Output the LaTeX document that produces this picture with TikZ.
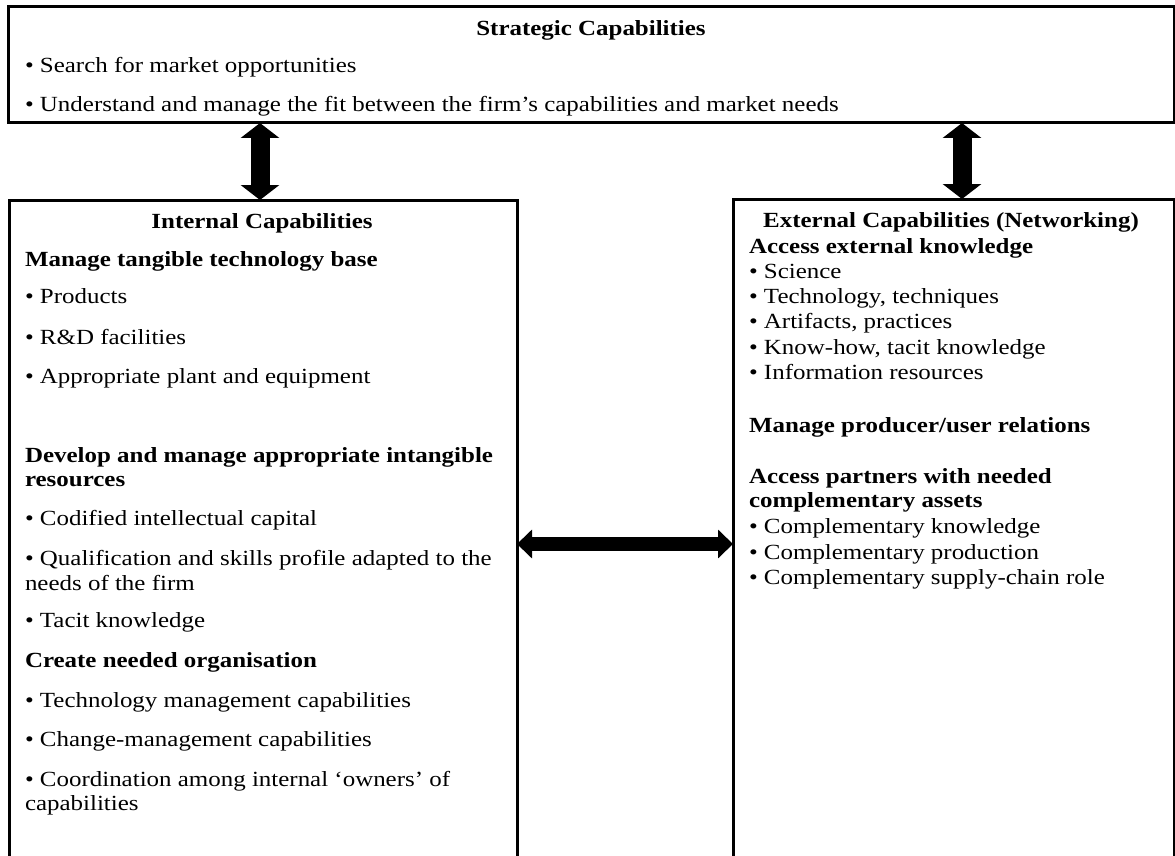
\documentclass[tikz,border=0pt]{standalone}
\usepackage{fontspec}
\setmainfont{Liberation Serif}[FakeStretch=1.155]
\usetikzlibrary{arrows.meta}

\tikzset{
  frame/.style={draw, rectangle, line width=3pt, inner sep=0pt, outer sep=0pt, anchor=north west},
  txt/.style={anchor=base west, inner sep=0pt, outer sep=0pt, font=\fontsize{21.6}{25}\selectfont},
  head/.style={txt, font=\fontsize{21.6}{25}\selectfont\bfseries},
  title/.style={head, anchor=base},
  fatv/.style={line width=19pt, {Triangle[length=15pt,width=38pt]}-{Triangle[length=15pt,width=38pt]}},
  fath/.style={line width=13.5pt, {Triangle[length=15pt,width=28pt]}-{Triangle[length=15pt,width=28pt]}},
}

\begin{document}
\begin{tikzpicture}[x=1pt, y=-1pt]
  \useasboundingbox (0,0) rectangle (1175,856);
  \clip (0,0) rectangle (1175,856);
  \fill[white] (0,0) rectangle (1175,856);

  % the three capability boxes (the lower two run off the bottom of the page)
  \node[frame, minimum width=1166pt, minimum height=116pt] (strategic) at (8,7) {};
  \node[frame, minimum width=508pt, minimum height=680pt] (internal) at (9,200) {};
  \node[frame, minimum width=441pt, minimum height=680pt] (external) at (733,199) {};

  % links between the boxes
  \draw[fatv] ([xshift=-3pt]internal.north |- strategic.south) -- ([xshift=-3pt]internal.north);
  \draw[fatv] ([xshift=8.5pt]external.north |- strategic.south) -- ([xshift=8.5pt]external.north);
  \draw[fath] ([yshift=-4pt]internal.east) -- ([yshift=-4pt]internal.east -| external.west);

  % strategic capabilities
  \node[title] (s0) at (591,36) {Strategic Capabilities};
  \node[txt] (s1) at (25,73) {• Search for market opportunities};
  \node[txt] (s2) at (25,112) {• Understand and manage the fit between the firm’s capabilities and market needs};

  % internal capabilities
  \node[title] (i0) at (262,228) {Internal Capabilities};
  \node[head] (i1) at (25,266) {Manage tangible technology base};
  \node[txt] (i2) at (25,303) {• Products};
  \node[txt] (i3) at (25,344) {• R\&D facilities};
  \node[txt] (i4) at (25,383) {• Appropriate plant and equipment};
  \node[head] (i5) at (25,462) {Develop and manage appropriate intangible};
  \node[head] (i6) at (25,486) {resources};
  \node[txt] (i7) at (25,525) {• Codified intellectual capital};
  \node[txt] (i8) at (25,565) {• Qualification and skills profile adapted to the};
  \node[txt] (i9) at (25,590) {needs of the firm};
  \node[txt] (i10) at (25,627) {• Tacit knowledge};
  \node[head] (i11) at (25,667) {Create needed organisation};
  \node[txt] (i12) at (25,707) {• Technology management capabilities};
  \node[txt] (i13) at (25,746) {• Change-management capabilities};
  \node[txt] (i14) at (25,786) {• Coordination among internal ‘owners’ of};
  \node[txt] (i15) at (25,810) {capabilities};

  % external capabilities
  \node[title] (e0) at (951,227) {External Capabilities (Networking)};
  \node[head] (e1) at (749,253) {Access external knowledge};
  \node[txt] (e2) at (749,278) {• Science};
  \node[txt] (e3) at (749,303) {• Technology, techniques};
  \node[txt] (e4) at (749,328) {• Artifacts, practices};
  \node[txt] (e5) at (749,354) {• Know-how, tacit knowledge};
  \node[txt] (e6) at (749,379) {• Information resources};
  \node[head] (e7) at (749,432) {Manage producer/user relations};
  \node[head] (e8) at (749,483) {Access partners with needed};
  \node[head] (e9) at (749,507) {complementary assets};
  \node[txt] (e10) at (749,533) {• Complementary knowledge};
  \node[txt] (e11) at (749,559) {• Complementary production};
  \node[txt] (e12) at (749,584) {• Complementary supply-chain role};
\end{tikzpicture}
\end{document}
